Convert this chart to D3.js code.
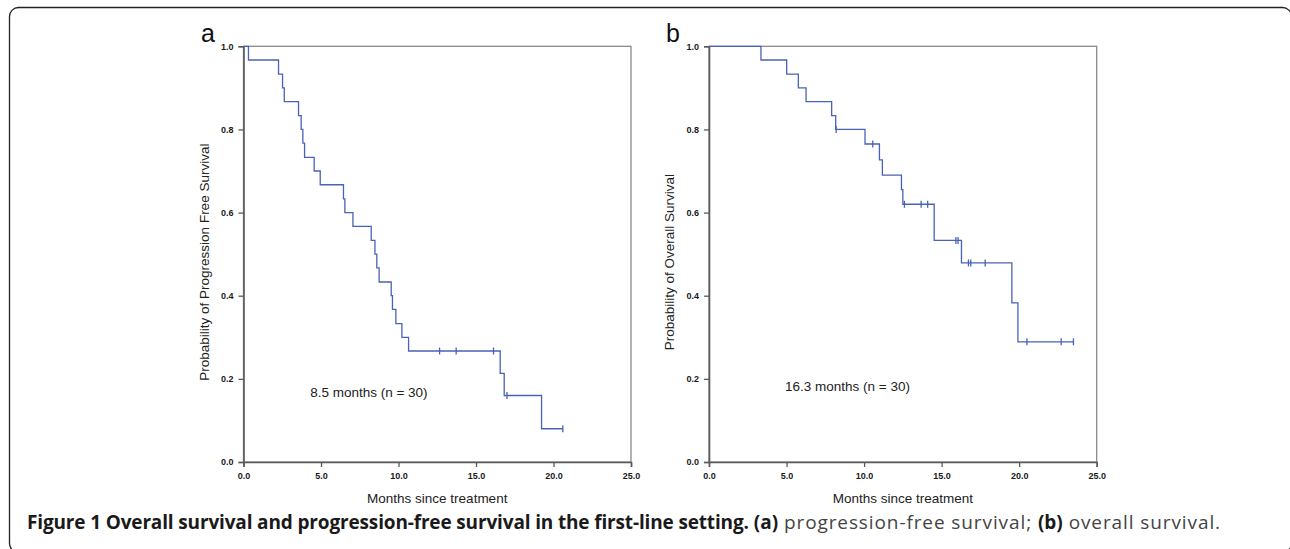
<!DOCTYPE html>
<html>
<head>
<meta charset="utf-8">
<script src="https://cdn.jsdelivr.net/npm/d3@7"></script>
<style>
  html, body { margin: 0; padding: 0; background: #fff; }
  svg { display: block; }
</style>
</head>
<body>
<svg id="chart" width="1290" height="549"></svg>
<script>
// ---------------- DATA ----------------
// Panel a: progression-free survival (step times in months, survival after the step)
const pfsTimes    = [0, 0.32, 2.26, 2.52, 2.63, 3.55, 3.72, 3.83, 3.94, 4.56, 4.95, 6.45, 6.54, 7.06, 8.24, 8.48, 8.60, 8.75, 9.53, 9.61, 9.83, 10.22, 10.65, 16.56, 16.82, 19.23];
const pfsSurvival = [1.0, 0.967, 0.933, 0.900, 0.867, 0.833, 0.800, 0.767, 0.733, 0.700, 0.667, 0.633, 0.600, 0.567, 0.533, 0.500, 0.467, 0.433, 0.400, 0.367, 0.333, 0.300, 0.267, 0.213, 0.160, 0.080];
const pfsEnd      = 20.6;
const pfsCensored = [12.65, 13.72, 16.13, 17.0, 20.6];

// Panel b: overall survival
const osTimes    = [0, 3.35, 5.01, 5.76, 6.26, 7.91, 8.17, 10.06, 10.99, 11.18, 12.41, 12.50, 14.52, 16.28, 19.53, 19.92];
const osSurvival = [1.0, 0.967, 0.933, 0.900, 0.867, 0.833, 0.800, 0.765, 0.727, 0.690, 0.655, 0.620, 0.533, 0.479, 0.383, 0.289];
const osEnd      = 23.5;
const osCensored = [8.2, 10.56, 12.6, 13.68, 14.1, 15.92, 16.06, 16.73, 16.88, 17.81, 20.5, 22.71, 23.5];

const xTicks = [0, 5, 10, 15, 20, 25];
const yTicks = [0, 0.2, 0.4, 0.6, 0.8, 1.0];

const panelLetters = ["a", "b"];
const yTitles = ["Probability of Progression Free Survival", "Probability of Overall Survival"];
const xTitle = "Months since treatment";
const medianLabels = ["8.5 months (n = 30)", "16.3 months (n = 30)"];

// ---------------- DRAW ----------------
const svg = d3.select("#chart");
const AXIS = "#5a5a5a";
const CURVE = "#4a62b6";

// outer rounded frame
svg.append("rect")
  .attr("x", 9.5).attr("y", 7.5)
  .attr("width", 1282).attr("height", 545)
  .attr("rx", 9).attr("ry", 9)
  .attr("fill", "none").attr("stroke", "#222").attr("stroke-width", 1.3);

const panels = [
  { x0: 243.5, x1: 631, times: pfsTimes, surv: pfsSurvival, end: pfsEnd, cens: pfsCensored,
    letterX: 201, titleX: 204, labelAt: [4.3, 0.157] },
  { x0: 709, x1: 1096.7, times: osTimes, surv: osSurvival, end: osEnd, cens: osCensored,
    letterX: 666, titleX: 669, labelAt: [4.9, 0.170] }
];

const yTop = 46.3, yBot = 462;

panels.forEach((p, i) => {
  const x = d3.scaleLinear().domain([0, 25]).range([p.x0, p.x1]);
  const y = d3.scaleLinear().domain([0, 1]).range([yBot, yTop]);
  const g = svg.append("g");

  // frame (top & right)
  g.append("rect")
    .attr("x", x(0)).attr("y", y(1))
    .attr("width", x(25) - x(0)).attr("height", y(0) - y(1))
    .attr("fill", "none").attr("stroke", "#8a8a8a").attr("stroke-width", 1.3);

  // axes
  const ya = g.append("g").attr("transform", `translate(${x(0)},0)`)
    .call(d3.axisLeft(y).tickValues(yTicks).tickFormat(d3.format(".1f")).tickSize(5).tickPadding(5));
  const xa = g.append("g").attr("transform", `translate(0,${y(0)})`)
    .call(d3.axisBottom(x).tickValues(xTicks).tickFormat(d3.format(".1f")).tickSize(5).tickPadding(6));
  [ya, xa].forEach(a => {
    a.select(".domain").attr("stroke", AXIS).attr("stroke-width", 1.6);
    a.selectAll(".tick line").attr("stroke", AXIS).attr("stroke-width", 1.3);
    a.selectAll(".tick text").attr("fill", "#1a1a1a")
      .style("font-family", "'Liberation Sans', Arial, sans-serif")
      .style("font-size", "9px").style("font-weight", "bold");
  });

  // survival curve
  const pts = p.times.map((t, k) => [t, p.surv[k]]);
  pts.push([p.end, p.surv[p.surv.length - 1]]);
  const line = d3.line().x(d => x(d[0])).y(d => y(d[1])).curve(d3.curveStepAfter);
  g.append("path").datum(pts)
    .attr("d", line).attr("fill", "none")
    .attr("stroke", CURVE).attr("stroke-width", 1.3);

  // censor marks
  const survAt = t => {
    let s = 1;
    p.times.forEach((tt, k) => { if (tt <= t) s = p.surv[k]; });
    return s;
  };
  g.selectAll("line.cens").data(p.cens).enter().append("line")
    .attr("class", "cens")
    .attr("x1", d => x(d)).attr("x2", d => x(d))
    .attr("y1", d => y(survAt(d)) - 3.5).attr("y2", d => y(survAt(d)) + 3.5)
    .attr("stroke", CURVE).attr("stroke-width", 1.3);

  // median label
  g.append("text")
    .attr("x", x(p.labelAt[0])).attr("y", y(p.labelAt[1]))
    .style("font-family", "'Liberation Sans', Arial, sans-serif")
    .style("font-size", "13.5px").attr("fill", "#222")
    .text(medianLabels[i]);

  // axis titles
  g.append("text")
    .attr("x", (x(0) + x(25)) / 2).attr("y", 503)
    .attr("text-anchor", "middle")
    .style("font-family", "'Liberation Sans', Arial, sans-serif")
    .style("font-size", "13.5px").attr("fill", "#222")
    .text(xTitle);
  g.append("text")
    .attr("transform", `translate(${p.titleX + 5},${(yTop + yBot) / 2 + 8}) rotate(-90)`)
    .attr("text-anchor", "middle")
    .style("font-family", "'Liberation Sans', Arial, sans-serif")
    .style("font-size", "13.5px").attr("fill", "#222")
    .text(yTitles[i]);

  // panel letter
  g.append("text")
    .attr("x", p.letterX).attr("y", 42)
    .style("font-family", "'Liberation Sans', Arial, sans-serif")
    .style("font-size", "25px").attr("fill", "#111")
    .text(panelLetters[i]);
});

// caption
const cap = svg.append("text")
  .attr("x", 27).attr("y", 529)
  .style("font-family", "'Open Sans', 'Noto Sans', sans-serif")
  .style("font-size", "19px").attr("fill", "#1a1a1a");
cap.append("tspan").attr("font-weight", "bold").style("letter-spacing", "-0.15px")
  .text("Figure 1 Overall survival and progression-free survival in the first-line setting.");
cap.append("tspan").text(" ");
cap.append("tspan").attr("font-weight", "bold").text("(a)");
cap.append("tspan").attr("fill", "#444").style("letter-spacing", "0.9px").text(" progression-free survival; ");
cap.append("tspan").attr("font-weight", "bold").text("(b)");
cap.append("tspan").attr("fill", "#444").style("letter-spacing", "0.9px").text(" overall survival.");
</script>
</body>
</html>
